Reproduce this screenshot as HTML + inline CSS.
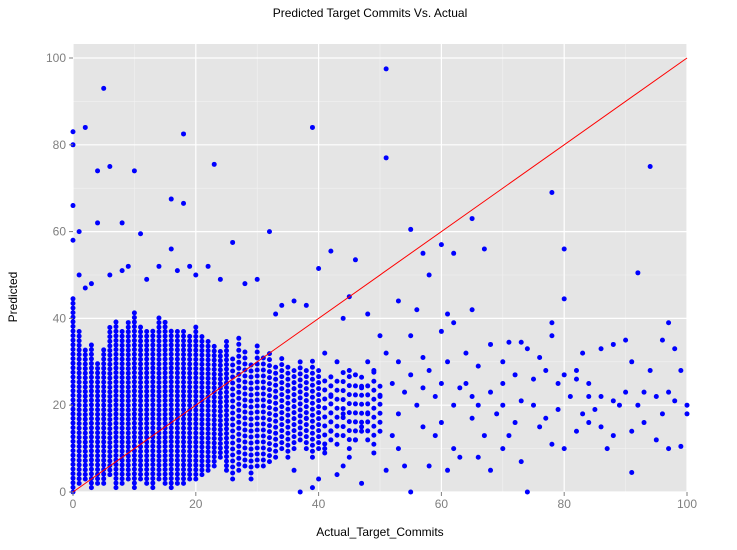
<!DOCTYPE html>
<html><head><meta charset="utf-8"><style>
body{margin:0;background:#fff;font-family:"Liberation Sans",sans-serif}
svg text{font-family:"Liberation Sans",sans-serif}
</style></head><body>
<svg id="chart" width="737" height="545" xmlns="http://www.w3.org/2000/svg">
<text x="370" y="17" text-anchor="middle" font-size="12" fill="#000">Predicted Target Commits Vs. Actual</text>
<rect x="73" y="44" width="614" height="448" fill="#e5e5e5"/>
<g id="grid"></g>
<g id="marks"></g>
<g id="axes"></g>
<text x="380" y="536" text-anchor="middle" font-size="12" fill="#000">Actual_Target_Commits</text>
<text transform="translate(17,297) rotate(-90)" text-anchor="middle" font-size="12" fill="#000">Predicted</text>
</svg>
<script>
const xTicks=[0,20,40,60,80,100];
const yTicks=[0,20,40,60,80,100];
const colX=[0,1,2,3,4,5,6,7,8,9,10,11,12,13,14,15,16,17,18,19,20,21,22,23,24,25,26,27,28,29,30,31,32,33,34,35,36,37,38,39,40,41,42,43,44,45,46,47,48,49,50];
const colLow=[0,2,3,1,2,2,4,1,2,3,1,3,2,1,3,2,1,2,2,3,3,4,5,6,8,5,3,5,6,3,6,6,7,8,10,8,10,12,10,8,10,9,12,11,13,10,12,14,12,11,14];
const colHigh=[45,37,33,34,30,33,38,40,37,40,42,38,37,38,41,40,38,37,38,36,38,36,35,34,33,35,32,36,33,30,35,32,33,30,31,30,28,30,29,31,28,27,28,26,29,27,25,27,26,28,25];
const ptX=[0,0,0,0,5,2,4,6,10,18,23,39,51,51,94,78,16,18,4,8,1,11,26,32,55,65,60,62,67,80,92,40,46,42,57,58,97,80,53,56,61,65,71,73,74,76,78,78,83,86,88,90,91,94,96,98,99,45,48,44,50,55,60,62,68,70,64,66,72,75,77,80,82,84,86,88,90,92,93,95,97,100,99,97,95,91,91,88,86,84,82,80,78,76,74,73,71,69,67,65,63,61,59,57,55,53,51,49,47,45,43,41,39,37,36,65,70,60,58,56,54,52,50,48,46,44,42,47,53,57,62,64,68,72,75,79,81,83,85,87,89,93,96,98,100,41,43,45,47,49,51,53,55,57,59,61,63,66,73,77,84,82,79,62,70,68,66,58,54,52,48,46,44,42,40,38,60,70,1,2,3,6,8,9,12,14,16,17,19,20,22,24,28,30,34,36,38,33];
const ptY=[58,66,80,83,93,84,74,75,74,82.5,75.5,84,97.5,77,75,69,67.5,66.5,62,62,60,59.5,57.5,60,60.5,63,57,55,56,56,50.5,51.5,53.5,55.5,55,50,39,44.5,44,42,41,42,34.5,34.5,33,31,39,36,32,33,34,35,30,28,35,33,28,45,41,40,36,36,37,39,34,30,32,29,27,26,28,27,26,25,22,21,23,20,23,22,23,20,10.5,10,12,4.5,14,13,15,16,14,10,11,15,0,7,13,18,13,17,8,5,13,15,0,10,5,9,2,8,4,10,1,0,5,22,20,25,28,20,23,25,22,30,27,18,22,15,18,24,20,25,23,16,20,19,22,18,19,10,20,16,18,21,18,32,30,28,24,28,32,30,27,31,22,30,24,20,21,17,22,28,25,10,10,5,8,6,6,13,18,12,6,14,3,17,16,25,50,47,48,50,51,52,49,52,56,51,52,50,52,49,48,49,43,44,43,41];
const X0=73,X1=687,Y0=492,Y1=58;
const sx=v=>X0+(v/100)*(X1-X0), sy=v=>Y0-(v/100)*(Y0-Y1);
const NS="http://www.w3.org/2000/svg";
function mk(t,a,p){const e=document.createElementNS(NS,t);for(const k in a)e.setAttribute(k,a[k]);p.appendChild(e);return e;}
const grid=document.getElementById('grid'),marks=document.getElementById('marks'),axes=document.getElementById('axes');
for(let v=10;v<=100;v+=20){
 const gl=mk('line',{x1:sx(v),x2:sx(v),y1:44,y2:492,stroke:'#f2f2f2','stroke-width':0.6},grid);
 
 const gh=mk('line',{x1:73,x2:687,y1:sy(v),y2:sy(v),stroke:'#f2f2f2','stroke-width':0.6},grid);
 
}
xTicks.forEach(v=>{
 const g=mk('line',{x1:sx(v),x2:sx(v),y1:44,y2:492,stroke:'#fff','stroke-width':1.2},grid);
 
 mk('line',{x1:sx(v),x2:sx(v),y1:492,y2:496,stroke:'#7f7f7f'},axes);
 const t=mk('text',{x:sx(v),y:508,'text-anchor':'middle','font-size':12,fill:'#7f7f7f'},axes);t.textContent=v;
 
});
yTicks.forEach(v=>{
 const g=mk('line',{x1:73,x2:687,y1:sy(v),y2:sy(v),stroke:'#fff','stroke-width':1.2},grid);
 
 mk('line',{x1:69,x2:73,y1:sy(v),y2:sy(v),stroke:'#7f7f7f'},axes);
 const t=mk('text',{x:66,y:sy(v)+4,'text-anchor':'end','font-size':12,fill:'#7f7f7f'},axes);t.textContent=v;
 
});
colX.forEach((x,i)=>{
 const gap=x>40?9:(x>25?6:4.6);
 const r=mk('line',{x1:sx(x),x2:sx(x),y1:sy(colLow[i]),y2:sy(colHigh[i]),stroke:'#0000ff','stroke-width':5,'stroke-linecap':'round','stroke-dasharray':'0 '+gap},marks);
 
});
ptX.forEach((x,i)=>{
 const c=mk('circle',{cx:sx(x),cy:sy(ptY[i]),r:2.5,fill:'#0000ff'},marks);
 
});
const ref=mk('line',{x1:sx(0),y1:sy(0),x2:sx(100),y2:sy(100),stroke:'#ff0000','stroke-width':1},marks);

</script>
</body></html>
